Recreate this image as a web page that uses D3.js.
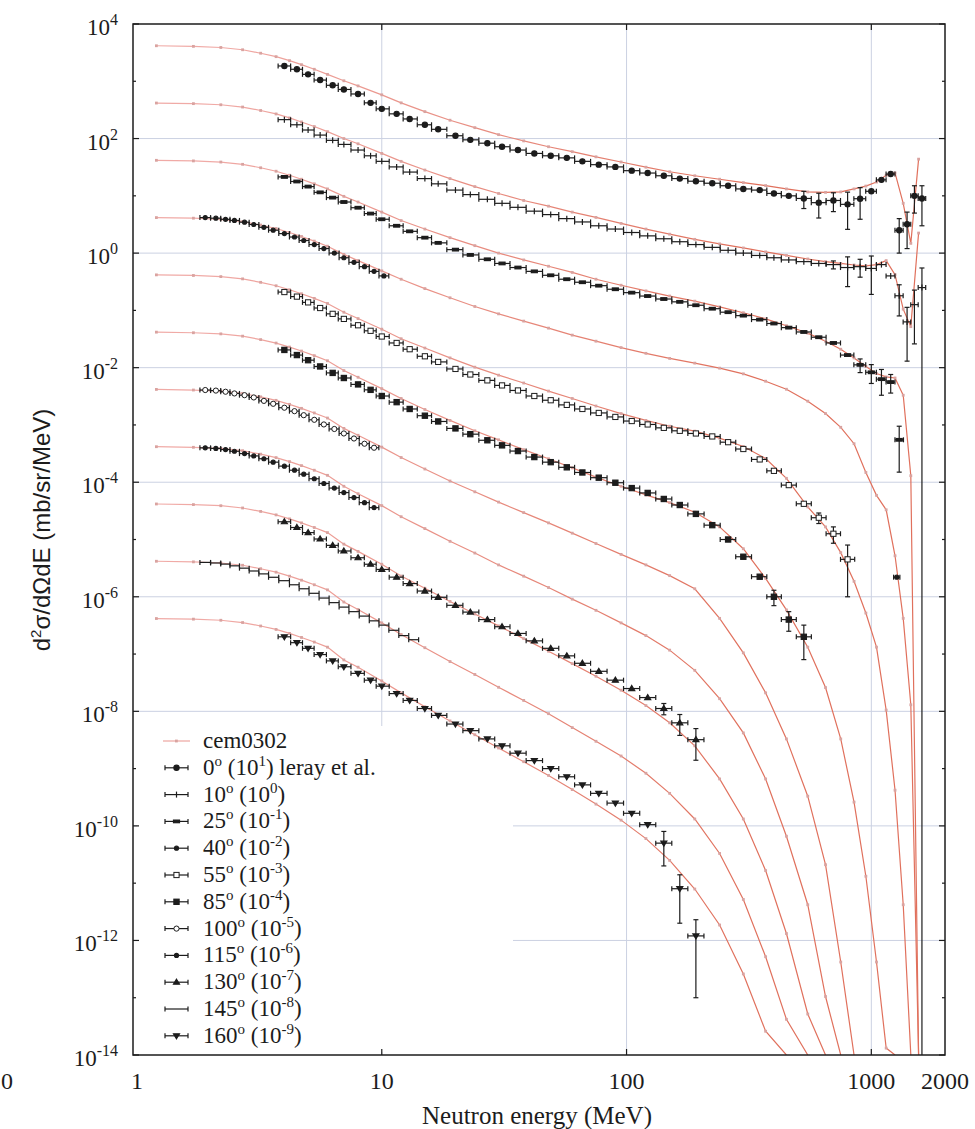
<!DOCTYPE html>
<html>
<head>
<meta charset="utf-8">
<title>p + Pb neutron double differential cross sections</title>
<script src="https://cdn.jsdelivr.net/npm/d3@7/dist/d3.min.js"></script>
<style>
  body { margin: 0; background: #fff; }
  text { font-family: "Liberation Serif", "Times New Roman", serif; fill: #1c1c1c; }
</style>
</head>
<body>
<div id="chart"></div>
<script>
// angles and the power of ten each spectrum is multiplied by (see legend)
const angles = [0, 10, 25, 40, 55, 85, 100, 115, 130, 145, 160];
const scaleExp = [1, 0, -1, -2, -3, -4, -5, -6, -7, -8, -9];

// cem0302 energy grid (MeV)
const cemE = [1.2, 1.7, 2.2, 2.7, 3.2, 3.7, 4.2, 4.7, 5.3, 6, 7, 8, 10, 12, 15, 19, 24, 30, 38, 48,
  60, 75, 95, 120, 150, 190, 240, 300, 370, 450, 550, 650, 750, 850, 950, 1050, 1150, 1250, 1350, 1450, 1560];

// cem0302 values in mb/sr/MeV before scaling (0 = falls to zero)
const cem0 = [417, 407, 389, 355, 309, 269, 229, 195, 162, 132, 102, 83, 58, 42, 29.5, 20.9, 15.5, 11.7, 9.1, 7.2,
  5.9, 4.8, 3.9, 3.16, 2.63, 2.24, 1.95, 1.70, 1.51, 1.32, 1.17, 1.15, 1.17, 1.32, 1.48, 1.74, 2.29, 2.51, 0.74, 0.148, 4.37];
const cem10 = [417, 407, 389, 355, 309, 269, 229, 195, 162, 132, 100, 81, 55, 40, 28.2, 20, 14.5, 11, 8.3, 6.6,
  5.2, 4.2, 3.3, 2.63, 2.14, 1.74, 1.45, 1.23, 1.05, 0.91, 0.79, 0.71, 0.66, 0.62, 0.60, 0.63, 0.74, 0.42, 0.105, 0.052, 2.24];
const cem25 = [417, 407, 389, 355, 309, 269, 229, 195, 162, 132, 98, 78, 52, 37, 26.3, 18.6, 13.5, 10, 7.6, 5.9,
  4.6, 3.5, 2.75, 2.19, 1.78, 1.45, 1.15, 0.91, 0.71, 0.54, 0.40, 0.29, 0.21, 0.148, 0.105, 0.079, 0.069, 0.066, 0.033, 1.3e-3, 0];
const cem40 = [417, 407, 389, 355, 309, 269, 229, 195, 162, 132, 95, 74, 49, 35, 24, 16.6, 11.7, 8.7, 6.5, 4.9,
  3.7, 2.9, 2.24, 1.78, 1.45, 1.2, 0.98, 0.78, 0.58, 0.42, 0.26, 0.158, 0.091, 0.047, 0.0148, 5.9e-3, 3.3e-3, 5.2e-4, 4.2e-5, 1.3e-6, 0];
const cem55 = [417, 407, 389, 355, 309, 269, 229, 195, 162, 132, 93, 72, 47, 32, 22, 14.8, 10.2, 7.4, 5.4, 3.9,
  2.9, 2.14, 1.58, 1.2, 0.95, 0.78, 0.59, 0.42, 0.26, 0.117, 0.037, 0.0166, 5.9e-3, 1.86e-3, 5.2e-4, 1.32e-4, 1.05e-5, 4.2e-7, 4.2e-9, 0];
const cem85 = [417, 407, 389, 355, 309, 269, 229, 195, 162, 132, 89, 68, 43, 29, 18.6, 12, 7.9, 5.5, 3.7, 2.57,
  1.78, 1.23, 0.85, 0.60, 0.44, 0.30, 0.166, 0.069, 0.021, 5.9e-3, 1.32e-3, 2.6e-4, 3.3e-5, 2.6e-6, 1.32e-7, 4.2e-9, 1.32e-10, 0];
const cem100 = [417, 407, 389, 355, 309, 269, 229, 195, 162, 132, 87, 66, 41, 27, 17, 10.5, 6.8, 4.5, 2.95, 1.95,
  1.29, 0.85, 0.55, 0.36, 0.234, 0.138, 0.042, 0.0105, 2.1e-3, 3.3e-4, 3.3e-5, 2.1e-6, 4.2e-8, 0];
const cem115 = [417, 407, 389, 355, 309, 269, 229, 195, 162, 132, 85, 63, 39, 25, 15.5, 9.3, 5.8, 3.6, 2.29, 1.45,
  0.91, 0.58, 0.35, 0.21, 0.117, 0.052, 0.0166, 4.2e-3, 6.6e-4, 6.6e-5, 4.2e-6, 1.05e-7, 0];
const cem130 = [417, 407, 389, 355, 309, 269, 229, 195, 162, 132, 83, 62, 37, 23, 14.1, 8.3, 5.0, 3.1, 1.86, 1.12,
  0.68, 0.41, 0.234, 0.126, 0.063, 0.025, 6.6e-3, 1.32e-3, 1.66e-4, 1.32e-5, 5.2e-7, 0];
const cem145 = [417, 407, 389, 355, 309, 269, 229, 195, 162, 132, 81, 60, 35, 22, 12.9, 7.4, 4.4, 2.63, 1.55, 0.91,
  0.52, 0.30, 0.166, 0.083, 0.037, 0.0132, 3.3e-3, 5.2e-4, 5.2e-5, 4.2e-6, 0];
const cem160 = [417, 407, 389, 355, 309, 269, 229, 195, 162, 132, 79, 59, 34, 21, 12, 6.8, 3.9, 2.29, 1.32, 0.76,
  0.43, 0.24, 0.126, 0.060, 0.025, 7.9e-3, 1.86e-3, 2.6e-4, 2.6e-5, 0];
const cemSeries = [cem0, cem10, cem25, cem40, cem55, cem85, cem100, cem115, cem130, cem145, cem160];

// Leray et al. measured energies (MeV): long time-of-flight runs and short low-energy runs
const longE = [4, 4.5, 5, 5.6, 6.3, 7, 8, 9, 10, 11.5, 13, 15, 17, 20, 23, 27, 31, 36, 42, 49,
  57, 66, 77, 90, 105, 122, 142, 165, 192, 224, 260, 300, 350, 400, 460, 530, 610, 700, 800, 900,
  1000, 1100, 1200, 1300, 1400, 1500, 1610];
const shortE = [1.9, 2.1, 2.3, 2.5, 2.75, 3, 3.3, 3.6, 4, 4.4, 4.8, 5.3, 5.8, 6.4, 7, 7.7, 8.5, 9.3, 10.2, 11.2, 12.3, 13.5];

// measured values, mb/sr/MeV before scaling
const leray0 = [185, 162, 132, 105, 85, 72, 60, 42, 33, 27, 22, 17.4, 14.5, 11.2, 9.5, 8.3, 7.2, 6.3, 5.5, 5.0,
  4.6, 4.0, 3.5, 3.2, 2.75, 2.5, 2.24, 2.0, 1.8, 1.66, 1.5, 1.32, 1.26, 1.1, 1.0, 0.9, 0.76, 0.83, 0.71, 0.89,
  1.2, 1.9, 2.4, 0.25, 0.32, 1.0, 0.9];
const leray10 = [214, 174, 141, 115, 93, 79, 63, 50, 40, 32, 26, 20, 16.2, 12.6, 10.5, 8.7, 7.4, 6.3, 5.4, 4.7,
  4.0, 3.5, 3.0, 2.63, 2.29, 2.0, 1.78, 1.58, 1.41, 1.26, 1.12, 1.0, 0.91, 0.83, 0.76, 0.71, 0.66, 0.63, 0.56, 0.58,
  0.54, 0.63, 0.4, 0.18, 0.063, 0.126, 0.25];
const leray25 = [214, 178, 145, 115, 93, 78, 62, 49, 39, 30, 24, 18.6, 15.1, 11.5, 9.3, 7.8, 6.6, 5.6, 4.8, 4.1,
  3.5, 3.1, 2.7, 2.34, 2.04, 1.78, 1.58, 1.41, 1.23, 1.07, 0.93, 0.81, 0.69, 0.59, 0.5, 0.42, 0.34, 0.27, 0.166, 0.112,
  0.083, 0.063, 0.056, 0.0055];
const leray40 = [417, 407, 389, 372, 347, 316, 282, 251, 219, 191, 166, 141, 120, 100, 83, 69, 58, 48, 40];
const leray40high = [[1270, 2.2e-4]];
const leray55 = [209, 174, 138, 110, 87, 71, 55, 44, 35, 27, 21, 15.8, 12.6, 9.5, 7.6, 6.0, 4.9, 4.0, 3.2, 2.7,
  2.24, 1.9, 1.62, 1.38, 1.17, 1.02, 0.89, 0.79, 0.71, 0.63, 0.5, 0.38, 0.25, 0.158, 0.089, 0.042, 0.024, 0.0126, 0.0045];
const leray85 = [204, 166, 135, 105, 81, 66, 51, 41, 32, 25, 19, 14.5, 11.5, 8.7, 6.9, 5.4, 4.4, 3.5, 2.75, 2.24,
  1.82, 1.48, 1.2, 0.98, 0.79, 0.65, 0.51, 0.4, 0.28, 0.178, 0.1, 0.05, 0.0224, 0.01, 0.004, 0.002];
const leray100 = [407, 398, 380, 355, 331, 302, 263, 234, 200, 174, 148, 123, 102, 85, 71, 58, 47, 40];
const leray115 = [398, 389, 372, 347, 316, 288, 257, 224, 191, 162, 138, 115, 95, 79, 66, 54, 44, 36];
const leray130 = [204, 162, 132, 102, 79, 63, 48, 37, 30, 22, 17, 12.6, 9.8, 7.1, 5.4, 4.0, 3.0, 2.29, 1.7, 1.26,
  0.93, 0.69, 0.5, 0.35, 0.25, 0.174, 0.112, 0.063, 0.032];
const leray145 = [398, 389, 372, 347, 316, 282, 251, 219, 191, 162, 138, 115, 95, 79, 66, 55, 46, 38, 32, 26, 21, 17.8];
const leray160 = [200, 158, 126, 98, 76, 60, 46, 35, 27.5, 20.4, 15.5, 11.2, 8.5, 6.0, 4.6, 3.3, 2.5, 1.86, 1.38, 1.0,
  0.72, 0.52, 0.37, 0.25, 0.166, 0.105, 0.05, 0.008, 0.0012];

// visible vertical error bars: [energy, absolute error] before scaling
const err0 = [[530, 0.3], [610, 0.35], [700, 0.3], [800, 0.45], [900, 0.5], [1300, 0.15], [1400, 0.2], [1500, 0.5], [1610, 0.6]];
const err10 = [[700, 0.1], [800, 0.3], [900, 0.2], [1000, 0.35], [1300, 0.1], [1400, 0.05], [1500, 0.1], [1610, 0.3]];
const err25 = [[900, 0.03], [1000, 0.03], [1100, 0.03], [1200, 0.02], [1300, 0.004]];
const err55 = [[610, 0.005], [700, 0.004], [800, 0.0035]];
const err85 = [[400, 0.003], [460, 0.0015], [530, 0.0012]];
const err130 = [[142, 0.025], [165, 0.025], [192, 0.018]];
const err160 = [[142, 0.03], [165, 0.006], [192, 0.0011]];

const leray = [
  {E: longE, v: leray0, err: err0, mark: "circle"},
  {E: longE, v: leray10, err: err10, mark: "plus"},
  {E: longE, v: leray25, err: err25, mark: "bar"},
  {E: shortE, v: leray40, err: [], mark: "dot", extra: leray40high},
  {E: longE, v: leray55, err: err55, mark: "squareOpen"},
  {E: longE, v: leray85, err: err85, mark: "square"},
  {E: shortE, v: leray100, err: [], mark: "circleOpen"},
  {E: shortE, v: leray115, err: [], mark: "dot"},
  {E: longE, v: leray130, err: err130, mark: "triangle"},
  {E: shortE, v: leray145, err: [], mark: "none"},
  {E: longE, v: leray160, err: err160, mark: "triangleDown"}
];

const W = 975, H = 1129;
const plotL = 133, plotR = 945, plotT = 24, plotB = 1055;
const ink = "#1c1c1c", pinkMark = "#d9a3a0", gridColor = "#cbd1e2";

const svg = d3.select("#chart").append("svg").attr("width", W).attr("height", H);
const x = d3.scaleLog().domain([0.963, 2000]).range([plotL, plotR]);
const y = d3.scaleLog().domain([1e-14, 1e4]).range([plotB, plotT]).clamp(true);
const yv = v => v > 0 ? y(v) : y(y.domain()[0]);

const defs = svg.append("defs");
defs.append("clipPath").attr("id", "plot")
  .append("rect").attr("x", plotL).attr("y", plotT).attr("width", plotR - plotL).attr("height", plotB - plotT);
// model lines look pale where the points are sparse and redder where they crowd together
const grad = defs.append("linearGradient").attr("id", "cemInk").attr("gradientUnits", "userSpaceOnUse")
  .attr("x1", x(2)).attr("x2", x(300)).attr("y1", 0).attr("y2", 0);
grad.append("stop").attr("offset", 0).attr("stop-color", "#f0aaa6");
grad.append("stop").attr("offset", 1).attr("stop-color", "#e0705c");

// grid lines at labelled decades
const gridY = d3.range(-12, 4, 2).map(e => Math.pow(10, e));
const gridX = [10, 100, 1000];
const grid = svg.append("g").attr("stroke", gridColor).attr("stroke-width", 1);
grid.selectAll("line.h").data(gridY).join("line").attr("class", "h")
  .attr("x1", plotL).attr("x2", plotR).attr("y1", d => y(d)).attr("y2", d => y(d));
grid.selectAll("line.v").data(gridX).join("line").attr("class", "v")
  .attr("x1", d => x(d)).attr("x2", d => x(d)).attr("y1", plotT).attr("y2", plotB);

// key box covers the grid in the lower left corner
svg.append("rect").attr("x", 137).attr("y", 726).attr("width", 376).attr("height", 326).attr("fill", "#fff");

// cem0302 curves
const plot = svg.append("g").attr("clip-path", "url(#plot)");
const line = d3.line().x(d => x(d[0])).y(d => yv(d[1]));
cemSeries.forEach((vals, k) => {
  const f = Math.pow(10, scaleExp[k]);
  const pts = vals.map((v, i) => [cemE[i], v * f]);
  plot.append("path").datum(pts).attr("d", line)
    .attr("fill", "none").attr("stroke", "url(#cemInk)").attr("stroke-width", 1.2);
  plot.append("g").selectAll("rect").data(pts.filter(p => p[1] > 0)).join("rect")
    .attr("x", d => x(d[0]) - 1.4).attr("y", d => yv(d[1]) - 1.4)
    .attr("width", 2.8).attr("height", 2.8).attr("fill", pinkMark);
});

// experimental points
function drawMark(g, type, cx, cy) {
  switch (type) {
    case "circle": g.append("circle").attr("cx", cx).attr("cy", cy).attr("r", 2.6).attr("fill", ink); break;
    case "dot": g.append("circle").attr("cx", cx).attr("cy", cy).attr("r", 2).attr("fill", ink); break;
    case "circleOpen": g.append("circle").attr("cx", cx).attr("cy", cy).attr("r", 2.6)
      .attr("fill", "#fff").attr("stroke", ink).attr("stroke-width", 1); break;
    case "square": g.append("rect").attr("x", cx - 2.6).attr("y", cy - 2.6).attr("width", 5.2).attr("height", 5.2).attr("fill", ink); break;
    case "squareOpen": g.append("rect").attr("x", cx - 2.6).attr("y", cy - 2.6).attr("width", 5.2).attr("height", 5.2)
      .attr("fill", "#fff").attr("stroke", ink).attr("stroke-width", 1); break;
    case "plus": g.append("line").attr("x1", cx).attr("x2", cx).attr("y1", cy - 3).attr("y2", cy + 3).attr("stroke", ink).attr("stroke-width", 1.2); break;
    case "bar": g.append("rect").attr("x", cx - 3).attr("y", cy - 1.3).attr("width", 6).attr("height", 2.6).attr("fill", ink); break;
    case "triangle": g.append("path").attr("d", `M${cx},${cy - 3}L${cx + 3},${cy + 2}L${cx - 3},${cy + 2}Z`).attr("fill", ink); break;
    case "triangleDown": g.append("path").attr("d", `M${cx},${cy + 3}L${cx + 3},${cy - 2}L${cx - 3},${cy - 2}Z`).attr("fill", ink); break;
    default: break;
  }
}

leray.forEach((s, k) => {
  const f = Math.pow(10, scaleExp[k]);
  const pts = s.v.map((v, i) => ({E: s.E[i], v: v * f}));
  pts.forEach((p, i) => {
    const prev = i > 0 ? pts[i - 1].E : p.E * p.E / pts[i + 1].E;
    const next = i < pts.length - 1 ? pts[i + 1].E : p.E * p.E / pts[i - 1].E;
    p.lo = Math.sqrt(prev * p.E);
    p.hi = Math.sqrt(p.E * next);
  });
  (s.extra || []).forEach(d => pts.push({E: d[0], v: d[1] * f, lo: d[0] / 1.03, hi: d[0] * 1.03}));
  s.err.forEach(([E, dv]) => {
    const p = pts.find(q => q.E === E);
    if (p) p.dv = dv * f;
  });
  const g = plot.append("g").attr("stroke", ink).attr("stroke-width", 1.2);
  pts.forEach(p => {
    const cy = yv(p.v), x0 = x(p.lo), x1 = x(p.hi);
    g.append("line").attr("x1", x0).attr("x2", x1).attr("y1", cy).attr("y2", cy);
    g.append("line").attr("x1", x0).attr("x2", x0).attr("y1", cy - 2.5).attr("y2", cy + 2.5);
    g.append("line").attr("x1", x1).attr("x2", x1).attr("y1", cy - 2.5).attr("y2", cy + 2.5);
    if (p.dv) {
      const cx = x(p.E);
      g.append("line").attr("x1", cx).attr("x2", cx)
        .attr("y1", yv(p.v + p.dv)).attr("y2", yv(p.v - p.dv));
      g.append("line").attr("x1", cx - 2.5).attr("x2", cx + 2.5).attr("y1", yv(p.v + p.dv)).attr("y2", yv(p.v + p.dv));
      if (p.v - p.dv > 0)
        g.append("line").attr("x1", cx - 2.5).attr("x2", cx + 2.5).attr("y1", yv(p.v - p.dv)).attr("y2", yv(p.v - p.dv));
    }
    drawMark(g, s.mark, x(p.E), cy);
  });
});

// legend rows
const rowY = i => 741 + i * 26.8;
const keyRows = svg.append("g");
keyRows.append("line").attr("x1", 163).attr("x2", 190).attr("y1", rowY(0)).attr("y2", rowY(0))
  .attr("stroke", "#eda4a0").attr("stroke-width", 1.2);
keyRows.append("rect").attr("x", 175).attr("y", rowY(0) - 1.4).attr("width", 2.8).attr("height", 2.8).attr("fill", pinkMark);
keyRows.append("text").attr("x", 203).attr("y", rowY(0) + 7).attr("font-size", 23).text("cem0302");
leray.forEach((s, k) => {
  const cy = rowY(k + 1);
  const g = keyRows.append("g").attr("stroke", ink).attr("stroke-width", 1.2);
  g.append("line").attr("x1", 165).attr("x2", 188).attr("y1", cy).attr("y2", cy);
  g.append("line").attr("x1", 165).attr("x2", 165).attr("y1", cy - 2.5).attr("y2", cy + 2.5);
  g.append("line").attr("x1", 188).attr("x2", 188).attr("y1", cy - 2.5).attr("y2", cy + 2.5);
  drawMark(g, s.mark, 176.5, cy);
  const t = keyRows.append("text").attr("x", 203).attr("y", cy + 7).attr("font-size", 23);
  t.append("tspan").text(angles[k]);
  t.append("tspan").attr("dy", -9).attr("font-size", 15).text("o");
  t.append("tspan").attr("dy", 9).text(" (10");
  t.append("tspan").attr("dy", -9).attr("font-size", 15).text(scaleExp[k]);
  t.append("tspan").attr("dy", 9).text(")" + (k === 0 ? " leray et al." : ""));
});

// frame and ticks
svg.append("rect").attr("x", plotL).attr("y", plotT).attr("width", plotR - plotL).attr("height", plotB - plotT)
  .attr("fill", "none").attr("stroke", ink).attr("stroke-width", 1.5);
const decades = d3.range(-14, 5);
const ticks = svg.append("g").attr("stroke", ink).attr("stroke-width", 1.2);
decades.forEach(e => {
  const len = e % 2 === 0 ? 6 : 3, yy = y(Math.pow(10, e));
  ticks.append("line").attr("x1", plotL).attr("x2", plotL + len).attr("y1", yy).attr("y2", yy);
  ticks.append("line").attr("x1", plotR).attr("x2", plotR - len).attr("y1", yy).attr("y2", yy);
});
gridX.forEach(v => {
  ticks.append("line").attr("x1", x(v)).attr("x2", x(v)).attr("y1", plotB).attr("y2", plotB - 6);
  ticks.append("line").attr("x1", x(v)).attr("x2", x(v)).attr("y1", plotT).attr("y2", plotT + 6);
});

// y tick labels 10^n
decades.filter(e => e % 2 === 0).forEach(e => {
  const t = svg.append("text").attr("x", 118).attr("y", y(Math.pow(10, e)) + 11)
    .attr("text-anchor", "end").attr("font-size", 23);
  t.append("tspan").text("10");
  t.append("tspan").attr("dy", -10).attr("font-size", 16).text(e);
});

// x tick labels
const xLabels = [1, 10, 100, 1000, 2000];
svg.selectAll("text.xl").data(xLabels).join("text").attr("class", "xl")
  .attr("x", d => x(d)).attr("y", 1089).attr("text-anchor", "middle").attr("font-size", 24).text(d => d);
svg.append("text").attr("x", 7).attr("y", 1089).attr("text-anchor", "middle").attr("font-size", 24).text("0");

// axis titles
svg.append("text").attr("x", 537).attr("y", 1124).attr("text-anchor", "middle").attr("font-size", 25)
  .text("Neutron energy (MeV)");
const yt = svg.append("text").attr("transform", "translate(50,530) rotate(-90)")
  .attr("text-anchor", "middle").attr("font-size", 24)
  .style("font-family", "'Liberation Sans', Arial, sans-serif");
yt.append("tspan").text("d");
yt.append("tspan").attr("dy", -9).attr("font-size", 15).text("2");
yt.append("tspan").attr("dy", 9).text("σ/dΩdE (mb/sr/MeV)");
</script>
</body>
</html>
